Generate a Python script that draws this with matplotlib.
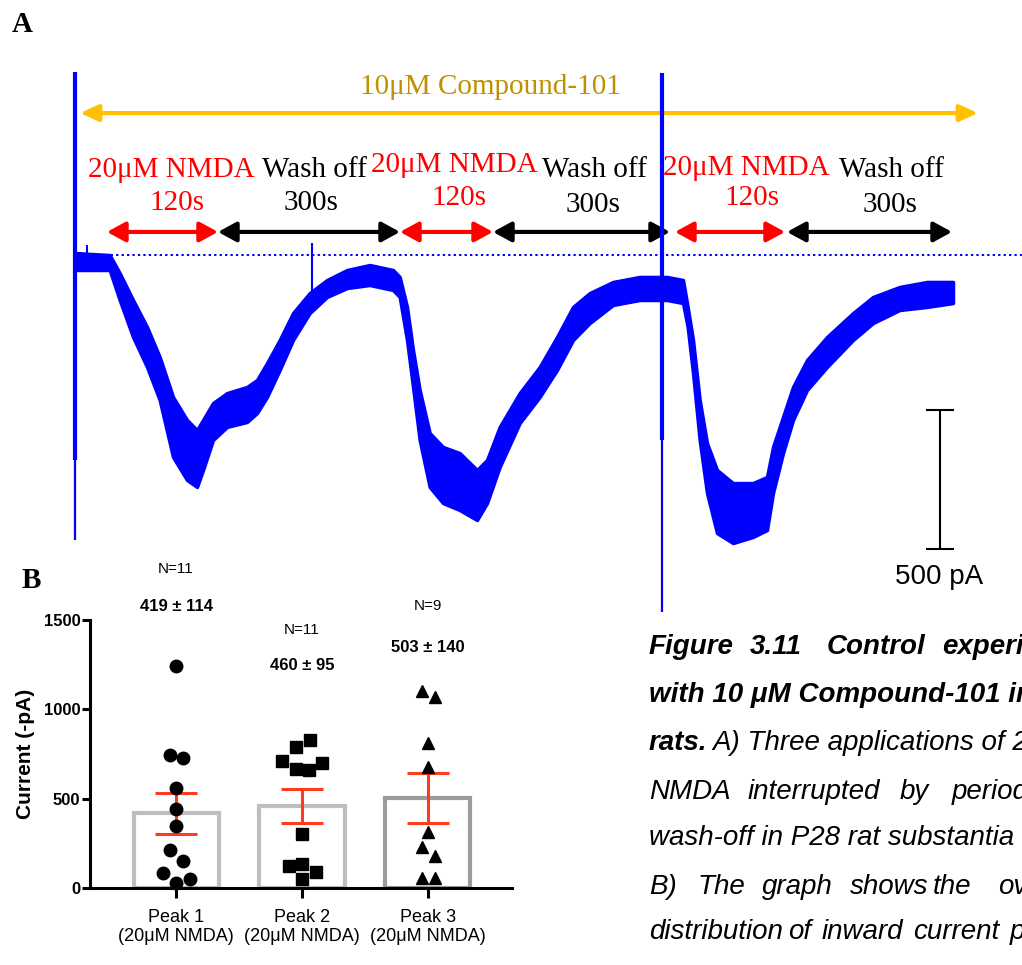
import matplotlib
matplotlib.use('Agg')
import matplotlib.pyplot as plt

W, H = 1022, 965
SERIF = 'Liberation Serif'
SANS = 'Liberation Sans'
BLUE = '#0000FF'
RED = '#FF0000'

# ---- panel A: whole-cell current trace (time in s, current in pA) ----
trace_t = [3, 22, 52, 67, 87, 108, 127, 147, 168, 183, 192, 207, 228, 258, 273,
           288, 307, 327, 352, 378, 408, 442, 477, 487, 498, 507, 517, 532, 552, 577,
           603, 618, 637, 667, 697, 723, 747, 772, 807, 847, 888, 912, 919, 927, 937,
           948, 963, 987, 1017, 1038, 1047, 1062, 1077, 1098, 1128, 1167, 1197, 1237, 1278, 1317]
trace_hi = [7, 4, 0, -65, -162, -259, -367, -511, -594, -630, -594, -533, -497, -475, -450,
            -389, -306, -209, -137, -90, -54, -36, -54, -79, -187, -342, -486, -641, -691, -713,
            -774, -738, -619, -497, -403, -295, -187, -137, -97, -79, -79, -90, -187, -306, -522,
            -677, -774, -821, -821, -799, -691, -583, -475, -378, -295, -209, -151, -115, -97, -97]
trace_lo = [-54, -54, -54, -162, -295, -403, -522, -727, -810, -835, -774, -666, -619, -601, -569,
            -511, -414, -306, -209, -151, -119, -108, -126, -151, -306, -475, -666, -835, -893, -918,
            -954, -893, -763, -605, -511, -414, -306, -245, -180, -162, -162, -173, -259, -425, -666,
            -857, -1001, -1037, -1015, -990, -857, -713, -594, -486, -403, -306, -245, -198, -187, -173]

# stimulus artifacts (thick upper part, thin tail) and small spikes
artifact_t = [0, 880]
artifact_hi = [659, 655]
artifact_mid = [-738, -666]
artifact_lo = [-1026, -1285]
spike_t = [18, 355]
spike_hi = [36, 43]
spike_lo = [0, -137]

# drug application protocol
compound_span = (7.5, 1354.5)
step_kind = ['nmda', 'wash', 'nmda', 'wash', 'nmda', 'wash']
step_start = [48, 214.5, 487.5, 627, 900, 1068]
step_end = [214.5, 487.5, 627, 892.5, 1065, 1315.5]
scale_pA = 500

# ---- panel B: peak inward currents ----
peak_labels = ['Peak 1\n(20μM NMDA)', 'Peak 2\n(20μM NMDA)', 'Peak 3\n(20μM NMDA)']
means = [419, 460, 503]
sems = [114, 95, 140]
ns = [11, 11, 9]
peak1 = [1241, 742, 725, 562, 444, 348, 213, 152, 84, 51, 28]
peak2 = [831, 787, 713, 702, 668, 663, 303, 135, 124, 90, 51]
peak3 = [1101, 1067, 809, 680, 315, 230, 180, 56, 56]
peak1_dx = [0, -0.05, 0.055, 0, 0, 0, -0.05, 0.055, -0.105, 0.11, 0]
peak2_dx = [0.061, -0.05, -0.156, 0.161, -0.05, 0.056, 0, 0, -0.103, 0.109, 0]
peak3_dx = [-0.048, 0.058, 0, 0, 0, -0.048, 0.058, -0.048, 0.058]


def fp(x, y):
    # pixel position -> figure fraction
    return x / W, 1 - y / H


fig = plt.figure(figsize=(W / 100, H / 100), dpi=100)

ax = fig.add_axes([0, 0, 1, 1])
ax.set_xlim(-112.5, 1420.5)
ax.set_ylim(-2556, 918)
ax.axis('off')

ax.fill_between(trace_t, trace_lo, trace_hi, color=BLUE, lw=2.5, zorder=5)
ax.vlines(artifact_t, artifact_mid, artifact_hi, color=BLUE, lw=3, zorder=6)
ax.vlines(artifact_t, artifact_lo, artifact_mid, color=BLUE, lw=1.6, zorder=6)
ax.vlines(spike_t, spike_lo, spike_hi, color=BLUE, lw=1.5, zorder=6)
ax.hlines(0, 5, 1420.5, color=BLUE, lw=1.4, linestyles=(0, (1.2, 1.6)), zorder=4)

# yellow compound arrow
ax.annotate('', xy=(compound_span[0], 511), xytext=(compound_span[1], 511),
            arrowprops=dict(arrowstyle='<|-|>,head_length=0.55,head_width=0.25',
                            color='#FFC000', lw=3, mutation_scale=20,
                            shrinkA=0, shrinkB=0), zorder=3)
fig.text(*fp(490, 87), '10μM Compound-101', color='#BF9000', family=SERIF,
         fontsize=21, ha='center', va='center')

for kind, s, e in zip(step_kind, step_start, step_end):
    c = RED if kind == 'nmda' else 'black'
    ax.annotate('', xy=(s, 83), xytext=(e, 83),
                arrowprops=dict(arrowstyle='<|-|>,head_length=0.55,head_width=0.3',
                                color=c, lw=3, mutation_scale=20,
                                shrinkA=0, shrinkB=0), zorder=3)

line1_x = [171, 314, 454, 594, 746, 891]
line1_y = [170, 170, 165, 170, 168, 170]
line2_x = [177, 311, 459, 593, 752, 890]
line2_y = [203, 203, 198, 205, 198, 205]
for i, kind in enumerate(step_kind):
    if kind == 'nmda':
        t1, t2, c = '20μM NMDA', '120s', RED
    else:
        t1, t2, c = 'Wash off', '300s', 'black'
    fig.text(*fp(line1_x[i], line1_y[i]), t1, color=c, family=SERIF, fontsize=21,
             ha='center', va='center', zorder=2)
    fig.text(*fp(line2_x[i], line2_y[i]), t2, color=c, family=SERIF, fontsize=21,
             ha='center', va='center', zorder=2)

# scale bar
ax.vlines(1297.5, -558 - scale_pA, -558, color='black', lw=1.5)
ax.hlines([-558, -558 - scale_pA], 1276.5, 1318.5, color='black', lw=1.5)
fig.text(*fp(939, 577), '%d pA' % scale_pA, family=SANS, fontsize=20,
         ha='center', va='center')

fig.text(*fp(22, 25), 'A', family=SERIF, fontweight='bold', fontsize=21,
         ha='center', va='center')
fig.text(*fp(31, 580), 'B', family=SERIF, fontweight='bold', fontsize=21,
         ha='center', va='center')

# ---- panel B ----
bx = fig.add_axes([90 / W, 1 - 888 / H, (512 - 90) / W, (888 - 620) / H])
bx.patch.set_alpha(0)
xs = [0, 1, 2]
bx.bar(xs, means, width=0.675, color='white', edgecolor=['#BEBEBE', '#BEBEBE', '#9C9C9C'],
       lw=3, zorder=1)
bx.errorbar(xs, means, yerr=sems, fmt='none', ecolor='#FF3B1D', elinewidth=2.2,
            capsize=15, capthick=2.2, zorder=2)
for x0, vals, dx, m in zip(xs, [peak1, peak2, peak3], [peak1_dx, peak2_dx, peak3_dx], ['o', 's', '^']):
    bx.plot([x0 + d for d in dx], vals, ls='none', marker=m, ms=9, color='black',
            clip_on=False, zorder=3)

bx.set_xlim(-0.683, 2.667)
bx.set_ylim(0, 1500)
bx.set_yticks([0, 500, 1000, 1500])
bx.set_xticks(xs)
bx.set_xticklabels(peak_labels, family=SANS, fontsize=13)
for lab in bx.get_yticklabels():
    lab.set_family(SANS)
    lab.set_fontweight('bold')
    lab.set_fontsize(12)
bx.set_ylabel('Current (-pA)', family=SANS, fontweight='bold', fontsize=15, labelpad=6)
for side in ['top', 'right']:
    bx.spines[side].set_visible(False)
for side in ['left', 'bottom']:
    bx.spines[side].set_linewidth(2.2)
bx.tick_params(axis='y', length=6, width=2.2, pad=1)
bx.tick_params(axis='x', length=7, width=2.2, pad=8)

n_y = [1787, 1444, 1579]
m_y = [1573, 1247, 1348]
for x0, n, mu, se, ny, my in zip(xs, ns, means, sems, n_y, m_y):
    bx.text(x0, ny, 'N=%d' % n, family=SANS, fontsize=11, ha='center', va='center', clip_on=False)
    bx.text(x0, my, '%d ± %d' % (mu, se), family=SANS, fontsize=12, fontweight='bold',
            ha='center', va='center', clip_on=False)

# ---- caption (justified lines are placed word by word) ----
cap = dict(family=SANS, fontsize=20, style='italic', va='center')
capb = dict(cap, fontweight='bold')
for word, x in zip(['Figure', '3.11', 'Control', 'experiments'], [649, 750, 827, 942]):
    fig.text(*fp(x, 647), word, **capb)
fig.text(*fp(649, 695), 'with 10 μM Compound-101 in P28', **capb)
fig.text(*fp(649, 743), 'rats.', **capb)
fig.text(*fp(712, 743), 'A) Three applications of 20 μM', **cap)
for word, x in zip(['NMDA', 'interrupted', 'by', 'periods'], [649, 748, 900, 952]):
    fig.text(*fp(x, 792), word, **cap)
fig.text(*fp(649, 838), 'wash-off in P28 rat substantia nigra', **cap)
for word, x in zip(['B)', 'The', 'graph', 'shows', 'the', 'overall'], [649, 697, 762, 850, 933, 998]):
    fig.text(*fp(x, 887), word, **cap)
for word, x in zip(['distribution', 'of', 'inward', 'current', 'peak'], [649, 788, 822, 913, 1010]):
    fig.text(*fp(x, 932), word, **cap)

fig.savefig('out.png', dpi=100)
